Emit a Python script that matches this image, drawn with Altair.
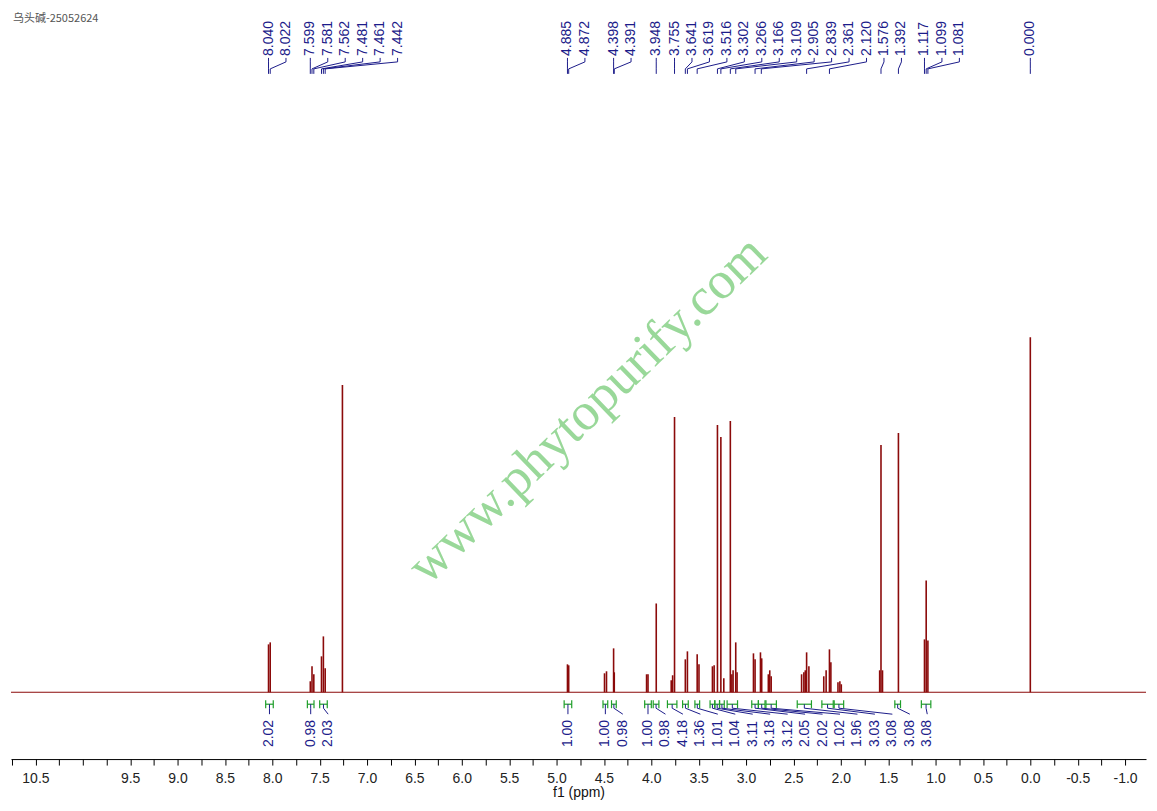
import altair as alt
import pandas as pd

# ---------------- data ----------------
X_LEFT, X_RIGHT = 10.758, -1.221          # visible ppm range (left -> right)

peak_ppm = [8.040, 8.022, 7.599, 7.581, 7.562, 7.481, 7.461, 7.442, 7.260,
            4.885, 4.872, 4.494, 4.473, 4.398, 4.391, 4.050, 4.035, 3.948,
            3.790, 3.775, 3.755, 3.641, 3.619, 3.516, 3.497, 3.355, 3.337,
            3.302, 3.266, 3.235, 3.166, 3.150, 3.137, 3.109, 3.095,
            2.922, 2.905, 2.848, 2.835, 2.765, 2.750, 2.735,
            2.414, 2.390, 2.375, 2.361, 2.337, 2.180, 2.155, 2.120, 2.105,
            2.030, 2.010, 1.995, 1.590, 1.576, 1.560, 1.392,
            1.117, 1.099, 1.081, 0.000]
peak_h = [48, 50, 11, 26, 18, 36, 56, 24, 308,
          28, 27, 19, 21, 44, 20, 18, 18, 89,
          12, 17, 276, 33, 41, 38, 28, 26, 27,
          268, 256, 14, 272, 18, 22, 50, 20,
          39, 33, 40, 34, 18, 22, 16,
          18, 20, 22, 40, 26, 16, 22, 43, 30,
          10, 11, 8, 22, 248, 22, 260,
          53, 112, 52, 356]

label_ppm = [8.040, 8.022, 7.599, 7.581, 7.562, 7.481, 7.461, 7.442,
             4.885, 4.872, 4.398, 4.391, 3.948, 3.755, 3.641, 3.619, 3.516,
             3.302, 3.266, 3.166, 3.109, 2.905, 2.839, 2.361, 2.120, 1.576,
             1.392, 1.117, 1.099, 1.081, 0.000]

int_lo = [8.07, 7.63, 7.50, 4.92, 4.51, 4.42, 4.07, 3.98, 3.83, 3.67, 3.54,
          3.38, 3.33, 3.28, 3.20, 2.94, 2.87, 2.79, 2.46, 2.20, 2.07, 1.43, 1.15]
int_hi = [7.99, 7.56, 7.42, 4.84, 4.46, 4.37, 4.00, 3.92, 3.73, 3.61, 3.49,
          3.33, 3.28, 3.23, 3.09, 2.87, 2.80, 2.68, 2.31, 2.08, 1.97, 1.37, 1.05]
int_val = ["2.02", "0.98", "2.03", "1.00", "1.00", "0.98", "1.00", "0.98",
           "4.18", "1.36", "1.01", "1.04", "3.11", "3.18", "3.12", "2.05",
           "2.02", "1.02", "1.96", "3.03", "3.08", "3.08", "3.08"]

title_text = "乌头碱-25052624"
watermark = "www.phytopurify.com"

# ---------------- label layout (greedy left-to-right spreading) ----------------
PX_PER_PPM = 1138 / (X_LEFT - X_RIGHT)
GAP = 17.5 / PX_PER_PPM


def spread(centers, gap):
    out = []
    for c in centers:              # centers in descending ppm (left to right)
        p = c if not out else min(c, out[-1] - gap)
        out.append(p)
    return out


lab_df = pd.DataFrame({
    "peak": label_ppm,
    "lx": spread(label_ppm, GAP),
    "txt": [f"{v:.3f}" for v in label_ppm],
})

centers = [(a + b) / 2 for a, b in zip(int_lo, int_hi)]
int_df = pd.DataFrame({
    "lo": int_lo, "hi": int_hi, "c": centers,
    "lx": spread(centers, GAP), "txt": int_val,
})
ends_df = pd.DataFrame({"e": int_lo + int_hi})

peaks_df = pd.DataFrame({"ppm": peak_ppm, "h": peak_h, "b": 0})
base_df = pd.DataFrame({"x1": [X_LEFT], "x2": [X_RIGHT], "y": [0]})
one_df = pd.DataFrame({"t": [watermark], "title": [title_text]})

# ---------------- scales / axis ----------------
tick_vals = [round(-1.0 + 0.25 * k, 2) for k in range(48)]
XS = alt.Scale(domain=[X_RIGHT, X_LEFT], reverse=True, nice=False, zero=False)
AX = alt.Axis(
    values=tick_vals,
    labelExpr="(abs(datum.value*2 - round(datum.value*2)) < 0.01 && datum.value != 10) ? "
              "((datum.value < 0 ? '-' : '') + format(abs(datum.value), '.1f')) : ''",
    title="f1 (ppm)", titleFontSize=14, titleFontWeight="normal", titleColor="#111",
    titleFont="Liberation Sans", titlePadding=1,
    labelFont="Liberation Sans", labelFontSize=14, labelColor="#222",
    labelPadding=6, tickSize=6, tickColor="#000", domainColor="#000",
    labelFlush=False, labelOverlap=False, grid=False,
)
YS = alt.Scale(domain=[-67, 685], nice=False, zero=False)

SPEC = "#8b0a0a"
BLUE = "#1c1c8a"
GREEN = "#1f9e2a"


def X(f):
    return alt.X(f, type="quantitative", scale=XS, axis=AX)


wm = alt.Chart(one_df).mark_text(
    font="Liberation Serif", fontSize=53, color="#8fd48f", angle=316,
    align="center", baseline="middle", opacity=0.9
).encode(x=alt.value(578), y=alt.value(402), text="t:N")

title = alt.Chart(one_df).mark_text(
    font="Noto Sans CJK SC", fontSize=11, color="#555", align="left", baseline="middle"
).encode(x=alt.value(2), y=alt.value(10), text="title:N")

baseline = alt.Chart(base_df).mark_rule(color=SPEC, strokeWidth=1.2).encode(
    x=X("x1"), x2="x2", y=alt.Y("y:Q", scale=YS, axis=None)
)

peaks = alt.Chart(peaks_df).mark_rule(color=SPEC, strokeWidth=1.6).encode(
    x=X("ppm"), y=alt.Y("b:Q", scale=YS, axis=None), y2="h:Q"
)

lab_text = alt.Chart(lab_df).mark_text(
    font="Liberation Sans", fontSize=14, color=BLUE, angle=270,
    align="left", baseline="middle"
).encode(x=X("lx"), y=alt.value(47), text="txt:N")

lead1 = alt.Chart(lab_df).mark_rule(color=BLUE, strokeWidth=1).encode(
    x=X("lx"), y=alt.value(49), y2=alt.value(53))
lead2 = alt.Chart(lab_df).mark_rule(color=BLUE, strokeWidth=1).encode(
    x=X("lx"), x2="peak", y=alt.value(53), y2=alt.value(60))
lead3 = alt.Chart(lab_df).mark_rule(color=BLUE, strokeWidth=1).encode(
    x=X("peak"), y=alt.value(60), y2=alt.value(65))

br_h = alt.Chart(int_df).mark_rule(color=GREEN, strokeWidth=1.2).encode(
    x=X("lo"), x2="hi", y=alt.value(697))
br_e = alt.Chart(ends_df).mark_rule(color=GREEN, strokeWidth=1.2).encode(
    x=X("e"), y=alt.value(693), y2=alt.value(701))
il1 = alt.Chart(int_df).mark_rule(color=BLUE, strokeWidth=1).encode(
    x=X("c"), y=alt.value(697), y2=alt.value(701))
il2 = alt.Chart(int_df).mark_rule(color=BLUE, strokeWidth=1).encode(
    x=X("c"), x2="lx", y=alt.value(701), y2=alt.value(707))
int_text = alt.Chart(int_df).mark_text(
    font="Liberation Sans", fontSize=14, color=BLUE, angle=270,
    align="left", baseline="middle"
).encode(x=X("lx"), y=alt.value(740), text="txt:N")

chart = alt.layer(
    wm, title, baseline, peaks, lab_text, lead1, lead2, lead3,
    br_h, br_e, il1, il2, int_text
).properties(
    width=1138, height=752,
    padding={"left": 2, "top": 0, "right": 2, "bottom": 0},
).configure_view(stroke=None)

chart.save("out.html", embed_options={"renderer": "svg", "actions": False})
